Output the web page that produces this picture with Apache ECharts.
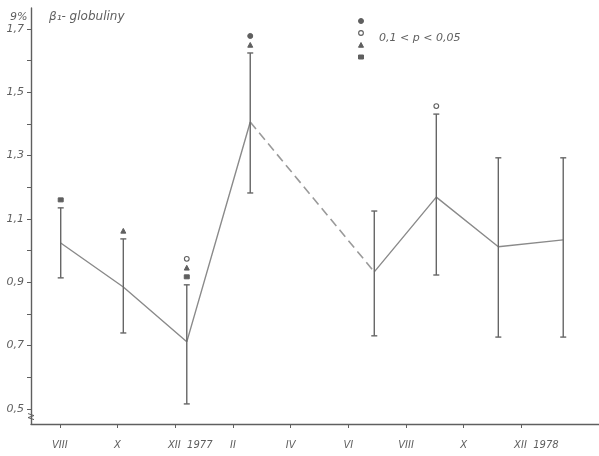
<!DOCTYPE html>
<html>
<head>
<meta charset="utf-8">
<script src="https://cdn.jsdelivr.net/npm/echarts@6.0.0/dist/echarts.min.js"></script>
<style>
  html, body { margin: 0; padding: 0; background: #ffffff; }
  #chart { width: 599px; height: 456px; }
</style>
</head>
<body>
<div id="chart"></div>
<script>
// ---- data ----
const sampleMonths = [8.03, 10.2, 12.4, 14.6, 18.9, 21.05, 23.2, 25.45]; // month index (VIII 1977 = 8)
const means  = [1.024, 0.885, 0.712, 1.406, 0.933, 1.169, 1.012, 1.034];
const upper  = [1.135, 1.037, 0.892, 1.624, 1.125, 1.431, 1.293, 1.293];
const lower  = [0.914, 0.740, 0.516, 1.182, 0.731, 0.923, 0.727, 0.727];
// significance marks above each bar, listed from bottom to top
const sigMarks = [["square"], ["triangle"], ["square", "triangle", "circleOpen"], ["triangle", "circle"], [], ["circleOpen"], [], []];
const tickMonths = [8, 10, 12, 14, 16, 18, 20, 22, 24];
const tickLabels = ["VIII", "X", "XII 1977", "II", "IV", "VI", "VIII", "X", "XII 1978"];
const yTickValues = [0.5, 0.6, 0.7, 0.8, 0.9, 1.0, 1.1, 1.2, 1.3, 1.4, 1.5, 1.6, 1.7];
const yLabelValues = [0.5, 0.7, 0.9, 1.1, 1.3, 1.5, 1.7];
const legendSymbols = ["circle", "circleOpen", "triangle", "square"];
const legendText = "0,1 < p < 0,05";
const titleText = "β\u2081- globuliny";
const unitText = "9%";

const INK = "#5f5f5f";
const LINE = "#8a8a8a";
const FONT = "DejaVu Sans";

const points = sampleMonths.map((m, i) => [m, means[i]]);
const segA = points.slice(0, 4);
const segB = points.slice(3, 5);
const segC = points.slice(4);
const errData = sampleMonths.map((m, i) => [m, lower[i], upper[i]]);

function markShape(kind, cx, cy) {
  const s = 2.5;
  const base = { style: { fill: INK, stroke: INK, lineWidth: 1 } };
  if (kind === "square") return Object.assign({ type: "rect", shape: { x: cx - s, y: cy - s * 0.8, width: 2 * s, height: 1.6 * s } }, base);
  if (kind === "triangle") return Object.assign({ type: "polygon", shape: { points: [[cx, cy - s], [cx + s, cy + s * 0.9], [cx - s, cy + s * 0.9]] } }, base);
  if (kind === "circle") return Object.assign({ type: "circle", shape: { cx: cx, cy: cy, r: s } }, base);
  return { type: "circle", shape: { cx: cx, cy: cy, r: s * 0.95 }, style: { fill: "#fff", stroke: INK, lineWidth: 1.1 } };
}

const chart = echarts.init(document.getElementById("chart"), null, { renderer: "canvas" });

const option = {
  backgroundColor: "#ffffff",
  animation: false,
  title: [
    { text: titleText, left: 44, top: 6, textStyle: { fontFamily: FONT, fontStyle: "italic", fontWeight: "normal", fontSize: 12, color: INK } },
    { text: unitText, left: 5, top: 7, textStyle: { fontFamily: FONT, fontStyle: "italic", fontWeight: "normal", fontSize: 11, color: INK } }
  ],
  grid: { left: 31, right: 0, top: 8, bottom: 32 },
  xAxis: {
    type: "value",
    min: 7.0,
    max: 26.69,
    axisLine: { show: true, lineStyle: { color: INK, width: 1.4 } },
    splitLine: { show: false },
    axisTick: { show: true, customValues: tickMonths, length: 4, lineStyle: { color: INK, width: 1 } },
    axisLabel: {
      customValues: tickMonths,
      margin: 16,
      fontFamily: FONT,
      fontStyle: "italic",
      fontSize: 10,
      color: INK,
      formatter: function (v) {
        const i = tickMonths.indexOf(Math.round(v));
        const lab = i >= 0 ? tickLabels[i] : "";
        if (lab.indexOf(" ") > 0) {
          const parts = lab.split(" ");
          return "{r|" + parts[0] + "}{y|  " + parts[1] + "}";
        }
        return lab;
      },
      rich: {
        r: { padding: [0, 0, 0, 30], fontFamily: FONT, fontStyle: "italic", fontSize: 10, color: INK },
        y: { fontFamily: FONT, fontStyle: "italic", fontSize: 10, color: INK }
      }
    }
  },
  yAxis: {
    type: "value",
    min: 0.4526,
    max: 1.766,
    axisLine: { show: true, lineStyle: { color: INK, width: 1.4 } },
    splitLine: { show: false },
    axisTick: { show: true, customValues: yTickValues, length: 4, lineStyle: { color: INK, width: 1 } },
    axisLabel: {
      customValues: yLabelValues,
      margin: 7,
      fontFamily: FONT,
      fontStyle: "italic",
      fontSize: 11,
      color: INK,
      formatter: function (v) { return v.toFixed(1).replace(".", ","); }
    }
  },
  series: [
    { type: "line", data: segA, symbol: "none", lineStyle: { color: LINE, width: 1.4 }, z: 2 },
    { type: "line", data: segB, symbol: "none", lineStyle: { color: "#9a9a9a", width: 1.6, type: [9, 5] }, z: 2 },
    { type: "line", data: segC, symbol: "none", lineStyle: { color: LINE, width: 1.4 }, z: 2 },
    {
      type: "custom",
      data: errData,
      z: 3,
      renderItem: function (params, api) {
        const x = api.value(0);
        const pLo = api.coord([x, api.value(1)]);
        const pHi = api.coord([x, api.value(2)]);
        const st = { stroke: "#666", lineWidth: 1.4 };
        const w = 3;
        return {
          type: "group",
          children: [
            { type: "line", shape: { x1: pLo[0], y1: pLo[1], x2: pHi[0], y2: pHi[1] }, style: st },
            { type: "line", shape: { x1: pHi[0] - w, y1: pHi[1], x2: pHi[0] + w, y2: pHi[1] }, style: st },
            { type: "line", shape: { x1: pLo[0] - w, y1: pLo[1], x2: pLo[0] + w, y2: pLo[1] }, style: st }
          ]
        };
      }
    },
    {
      type: "custom",
      data: errData,
      z: 4,
      renderItem: function (params, api) {
        const x = api.value(0);
        const pHi = api.coord([x, api.value(2)]);
        const marks = sigMarks[params.dataIndex] || [];
        const children = marks.map(function (k, j) {
          return markShape(k, pHi[0], pHi[1] - 8 - j * 9);
        });
        return { type: "group", children: children };
      }
    }
  ],
  graphic: []
};

// legend key (top right)
const legendChildren = legendSymbols.map(function (k, j) { return markShape(k, 361, 21 + j * 12); });
legendChildren.push({ type: "text", style: { x: 379, y: 38, text: legendText, fontFamily: FONT, fontStyle: "italic", fontSize: 11, fill: INK, textVerticalAlign: "middle" } });
option.graphic.push({ type: "group", children: legendChildren });

chart.setOption(option);

// small axis-break mark near the foot of the y axis
const bp = chart.convertToPixel({ xAxisIndex: 0, yAxisIndex: 0 }, [7.0, 0.476]);
chart.setOption({
  graphic: [
    { type: "group", children: legendChildren },
    { type: "polyline", shape: { points: [[bp[0] - 3, bp[1] - 3], [bp[0] + 3, bp[1] - 1], [bp[0] - 3, bp[1] + 1], [bp[0] + 3, bp[1] + 3]] }, style: { stroke: INK, lineWidth: 1, fill: null } }
  ]
});
</script>
</body>
</html>
